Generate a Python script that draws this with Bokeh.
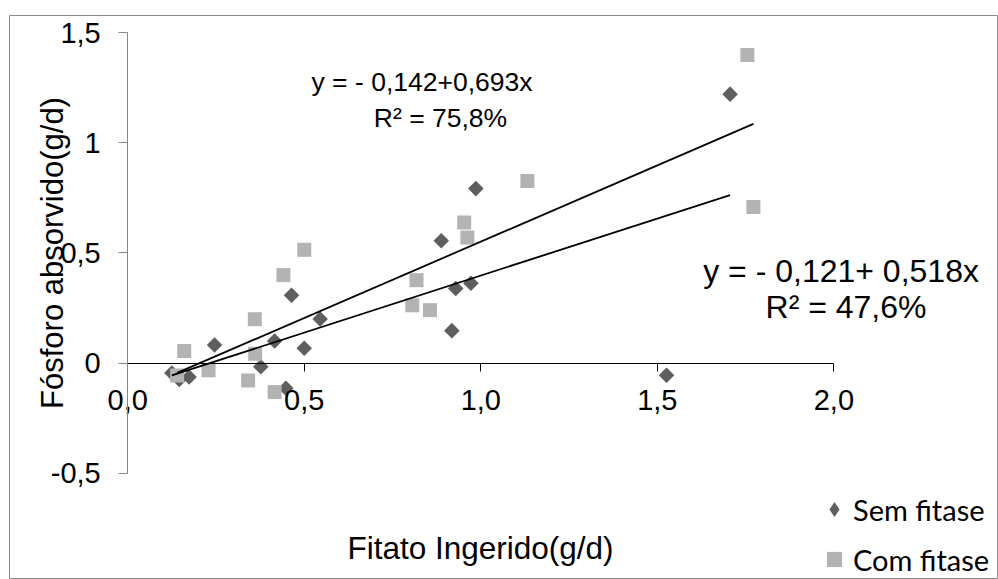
import numpy as np
from bokeh.plotting import figure
from bokeh.models import (Range1d, LinearAxis, FixedTicker, Label, Legend,
                          LegendItem)
from bokeh.embed import file_html
from bokeh.resources import INLINE

# ---------------- data ----------------
sem_x = [0.125, 0.146, 0.174, 0.246, 0.377, 0.416, 0.448, 0.464, 0.500, 0.545,
         0.888, 0.918, 0.929, 0.972, 0.986, 1.526, 1.706]
sem_y = [-0.045, -0.075, -0.064, 0.082, -0.017, 0.100, -0.115, 0.308, 0.067, 0.200,
         0.555, 0.147, 0.338, 0.362, 0.792, -0.056, 1.221]
com_x = [0.140, 0.160, 0.229, 0.341, 0.360, 0.361, 0.416, 0.441, 0.500, 0.806,
         0.818, 0.856, 0.953, 0.962, 1.132, 1.755, 1.772]
com_y = [-0.057, 0.055, -0.033, -0.079, 0.199, 0.042, -0.132, 0.399, 0.514, 0.262,
         0.376, 0.240, 0.638, 0.570, 0.827, 1.399, 0.709]

sem_coef = (-0.121, 0.518)   # intercept, slope
com_coef = (-0.142, 0.693)

x_ticks = [0.0, 0.5, 1.0, 1.5, 2.0]
x_tick_labels = ["0,0", "0,5", "1,0", "1,5", "2,0"]
y_ticks = [-0.5, 0.0, 0.5, 1.0, 1.5]
y_tick_labels = ["-0,5", "0", "0,5", "1", "1,5"]

series_names = ["Sem fitase", "Com fitase"]
eq_texts = ["y = - 0,142+0,693x", "R\u00b2 = 75,8%",
            "y =  - 0,121+ 0,518x", "R\u00b2 = 47,6%"]
x_title = "Fitato Ingerido(g/d)"
y_title = "F\u00f3sforo absorvido(g/d)"

# ---------------- layout constants ----------------
W, H = 998, 579
FL, FT = 9, 15                  # frame (outer chart border) left / top, canvas px
X0_PX, X_SCALE = 127.2, 353.1   # canvas px of x = 0, px per unit
Y0_PX, Y_SCALE = 362.5, 220.2   # canvas px of y = 0, px per unit

def dx(px):
    return (px - X0_PX) / X_SCALE

def dy(py):
    return (Y0_PX - py) / Y_SCALE

SEM_COLOR = "#5e5e5e"
COM_COLOR = "#b3b3b3"
AXIS_GRAY = "#868686"
BORDER_GRAY = "#8a8a8a"
FONT = "Liberation Sans"

p = figure(width=W, height=H,
           x_range=Range1d(dx(FL), dx(W)),
           y_range=Range1d(dy(H), dy(FT)),
           x_axis_type=None, y_axis_type=None,
           output_backend="svg", toolbar_location=None,
           min_border_left=FL, min_border_top=FT, min_border_right=0, min_border_bottom=0)
# the frame outline is the chart's outer border
p.outline_line_color = BORDER_GRAY
p.outline_line_width = 1
p.background_fill_color = "white"
p.border_fill_color = "white"

# ---------------- axes ----------------
xaxis = LinearAxis(fixed_location=0, bounds=(0, 2), ticker=FixedTicker(ticks=x_ticks),
                   major_label_overrides=dict(zip(x_ticks, x_tick_labels)),
                   axis_label=x_title)
xaxis.axis_line_color = "black"
xaxis.major_tick_line_color = "black"
xaxis.major_tick_out = 8
xaxis.major_tick_in = 0
xaxis.minor_tick_line_color = None
xaxis.major_label_standoff = 19
xaxis.major_label_text_font = FONT
xaxis.major_label_text_font_size = "29px"
xaxis.major_label_text_color = "black"
xaxis.axis_label_text_font = FONT
xaxis.axis_label_text_font_size = "31.5px"
xaxis.axis_label_text_font_style = "normal"
xaxis.axis_label_text_color = "black"
xaxis.axis_label_standoff = 116
p.add_layout(xaxis, "below")

yaxis = LinearAxis(fixed_location=0, bounds=(-0.5, 1.5), ticker=FixedTicker(ticks=y_ticks),
                   major_label_overrides=dict(zip(y_ticks, y_tick_labels)),
                   axis_label=y_title)
yaxis.axis_line_color = AXIS_GRAY
yaxis.major_tick_line_color = AXIS_GRAY
yaxis.major_tick_out = 9
yaxis.major_tick_in = 0
yaxis.minor_tick_line_color = None
yaxis.major_label_standoff = 18
yaxis.major_label_text_font = FONT
yaxis.major_label_text_font_size = "29px"
yaxis.major_label_text_color = "black"
yaxis.axis_label_text_font = FONT
yaxis.axis_label_text_font_size = "31px"
yaxis.axis_label_text_font_style = "normal"
yaxis.axis_label_text_color = "black"
yaxis.axis_label_standoff = -22
p.add_layout(yaxis, "left")

# ---------------- data marks ----------------
r_sem = p.scatter(sem_x, sem_y, marker="square", angle=np.pi / 4, size=11,
                  fill_color=SEM_COLOR, line_color=None)
r_com = p.scatter(com_x, com_y, marker="square", size=14,
                  fill_color=COM_COLOR, line_color=None)

for xs, coef in ((sem_x, sem_coef), (com_x, com_coef)):
    xl = np.array([min(xs), max(xs)])
    p.line(xl, coef[0] + coef[1] * xl, line_color="black", line_width=1.8)

# legend key for the diamond symbol (the legend ignores marker angle);
# it holds a single NaN point, so nothing is drawn in the plot area
r_sem_key = p.scatter(x=[np.nan], y=[np.nan], marker="diamond",
                      fill_color=SEM_COLOR, line_color=None)

# ---------------- equation labels ----------------
eq_specs = [(421.5, 81.7, "26.5px"), (440.0, 117.7, "26.5px"),
            (845.0, 270.7, "32px"), (845.5, 306.0, "32px")]
for txt, (px, py, fs) in zip(eq_texts, eq_specs):
    p.add_layout(Label(x=dx(px), y=dy(py), text=txt, text_align="center",
                       text_baseline="alphabetic", text_font=FONT,
                       text_font_size=fs, text_color="black"))

# ---------------- legend ----------------
legend = Legend(items=[LegendItem(label=series_names[0], renderers=[r_sem_key]),
                       LegendItem(label=series_names[1], renderers=[r_com])],
                location=(815 - FL, 1), orientation="vertical",
                glyph_width=38, glyph_height=38, label_height=38, spacing=12,
                padding=0, margin=0, label_standoff=0,
                border_line_color=None, background_fill_alpha=0,
                label_text_font="Lato", label_text_font_size="29px",
                label_text_color="black")
p.add_layout(legend)

open("out.html", "w").write(file_html(p, INLINE))
